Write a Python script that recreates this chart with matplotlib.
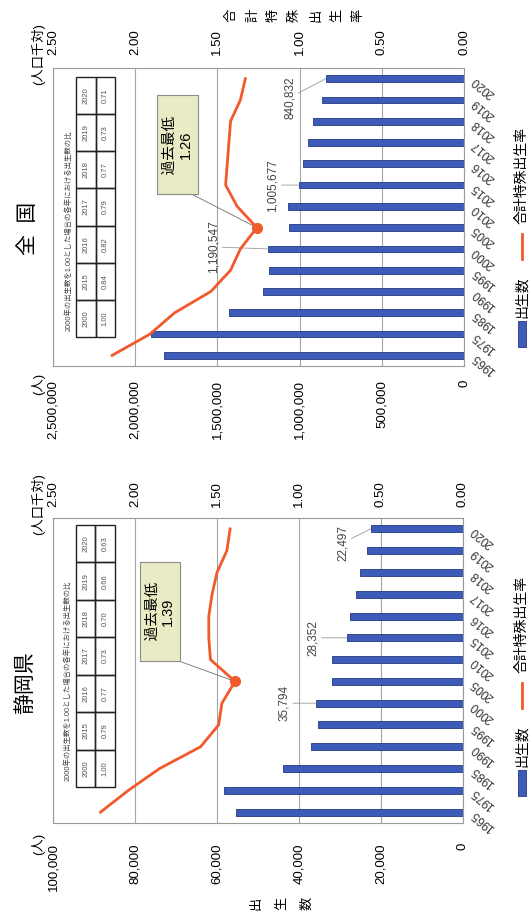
"""
Recreate the rotated 静岡県 / 全国 births and fertility rate chart pair.
"""
import matplotlib.pyplot as plt
import numpy as np
from matplotlib.patches import Rectangle
from matplotlib.lines import Line2D

plt.rcParams["font.family"] = ["Liberation Sans", "Noto Sans CJK JP"]

years = ["1965", "1975", "1985", "1990", "1995", "2000", "2005", "2010",
         "2015", "2016", "2017", "2018", "2019", "2020"]

shizuoka_births = [55400, 58300, 43800, 37100, 35300, 35794, 31850, 31900,
                   28352, 27550, 26200, 25100, 23500, 22497]
shizuoka_rate = [2.21, 2.04, 1.85, 1.60, 1.49, 1.47, 1.39, 1.54,
                 1.55, 1.55, 1.53, 1.50, 1.44, 1.42]

japan_births = [1823697, 1901440, 1431577, 1221585, 1187064, 1190547, 1062530,
                1071304, 1005677, 976978, 946146, 918400, 865239, 840832]
japan_rate = [2.14, 1.91, 1.76, 1.54, 1.42, 1.36, 1.26, 1.38,
              1.45, 1.44, 1.43, 1.42, 1.36, 1.33]

table_years = ["2000", "2015", "2016", "2017", "2018", "2019", "2020"]
shizuoka_ratio = ["1.00", "0.79", "0.77", "0.73", "0.70", "0.66", "0.63"]
japan_ratio = ["1.00", "0.84", "0.82", "0.79", "0.77", "0.73", "0.71"]
table_caption = "2000年の出生数を1.00とした場合の各年における出生数の比"

rate_ticks = [0, 0.5, 1.0, 1.5, 2.0, 2.5]
shizuoka_count_ticks = [0, 20000, 40000, 60000, 80000, 100000]
japan_count_ticks = [0, 500000, 1000000, 1500000, 2000000, 2500000]

labeled_years = ["2000", "2015", "2020"]
lowest_year = "2005"
legend_labels = ["出生数", "合計特殊出生率"]

W, H = 530, 919
BAR_COLOR = "#3d5cb9"
LINE_COLOR = "#f2592b"
GRID_COLOR = "#a5a5a5"


def fx(px):
    return px / W


def fy(py):
    return 1 - py / H


def draw_table(ax, ratios, x0, x1, y0, y1):
    xm = (x0 + x1) / 2
    step = (y1 - y0) / len(table_years)
    for i, (yr, r) in enumerate(zip(table_years, ratios)):
        yb = y0 + i * step
        for xa, txt in ((x0, yr), (xm, r)):
            ax.add_patch(Rectangle((xa, yb), xm - x0, step, transform=ax.transAxes,
                                   fill=False, ec="#222222", lw=1.0, zorder=4))
            ax.text(xa + (xm - x0) / 2, yb + step / 2, txt, transform=ax.transAxes,
                    rotation=90, ha="center", va="center", fontsize=5.5,
                    color="#555555", zorder=5)
    ax.text(x0 - 0.019, y0 + 0.02, table_caption, transform=ax.transAxes,
            rotation=90, ha="center", va="bottom", fontsize=5.3, color="#444444")


def draw_panel(rect, births, rates, count_ticks, ratios, table_y, label_offsets,
               box_offset, bottom_pad, top_pad):
    x0, y0, x1, y1 = rect
    ax = fig.add_axes([fx(x0), fy(y1), (x1 - x0) / W, (y1 - y0) / H])
    pos = np.arange(len(years))

    ax.barh(pos, births, height=0.32, color=BAR_COLOR, edgecolor="#24397e",
            linewidth=0.6, zorder=2)
    ax.set_xlim(count_ticks[-1], count_ticks[0])
    ax.set_ylim(-0.5, len(years) - 0.5)
    ax.set_xticks(count_ticks)
    ax.set_xticklabels([f"{v:,}" for v in count_ticks], rotation=90)
    ax.tick_params(axis="x", length=0, pad=bottom_pad, labelsize=9.5)
    ax.xaxis.grid(True, color=GRID_COLOR, linewidth=0.8)
    ax.set_axisbelow(True)
    ax.yaxis.tick_right()
    ax.set_yticks(pos)
    ax.set_yticklabels(years, rotation=140, ha="right", va="center",
                       rotation_mode="anchor")
    ax.tick_params(axis="y", length=0, pad=7, labelsize=8.5, labelcolor="#333333")
    for s in ax.spines.values():
        s.set_color("#9a9a9a")
        s.set_linewidth(0.8)

    for yr, (dx, dy) in zip(labeled_years, label_offsets):
        i = years.index(yr)
        ax.annotate(f"{births[i]:,}", xy=(births[i], pos[i]), xytext=(dx, dy),
                    textcoords="offset pixels", rotation=90, ha="center",
                    va="center", fontsize=8.5, color="#444444",
                    arrowprops=dict(arrowstyle="-", color="#9a9a9a", lw=0.6,
                                    shrinkA=0, shrinkB=0))

    ax2 = ax.twiny()
    ax2.set_xlim(rate_ticks[-1], rate_ticks[0])
    ax2.set_xticks(rate_ticks)
    ax2.set_xticklabels([f"{v:.2f}" for v in rate_ticks], rotation=90)
    ax2.tick_params(axis="x", length=0, pad=top_pad, labelsize=9.5)
    for s in ax2.spines.values():
        s.set_visible(False)
    ax2.plot(rates, pos, color=LINE_COLOR, lw=2, zorder=3)
    low = years.index(lowest_year)
    ax2.plot(rates[low], pos[low], "o", color=LINE_COLOR, ms=7, zorder=3)
    ax2.annotate(f"　過去最低　\n{rates[low]:.2f}", xy=(rates[low], pos[low]),
                 xytext=box_offset, textcoords="offset pixels", rotation=90,
                 ha="center", va="center", multialignment="center", fontsize=10.5,
                 linespacing=1.1, zorder=6,
                 bbox=dict(boxstyle="square,pad=0.4", fc="#e8ebc3", ec="#8c8c8c", lw=0.8),
                 arrowprops=dict(arrowstyle="-", color="#707070", lw=0.6,
                                 relpos=(0.6, 0.0), shrinkA=0, shrinkB=3))

    draw_table(ax2, ratios, 0.056, 0.151, table_y[0], table_y[1])
    return ax


def draw_legend(base):
    xc = 522
    fig.patches.append(Rectangle((fx(xc - 4), fy(base)), 8 / W, 26 / H,
                                 transform=fig.transFigure, fc=BAR_COLOR,
                                 ec="#24397e", lw=0.6))
    fig.text(fx(xc), fy(base - 50), legend_labels[0], rotation=90,
             ha="center", va="center", fontsize=10)
    fig.lines.append(Line2D([fx(xc), fx(xc)], [fy(base - 88), fy(base - 113)],
                            transform=fig.transFigure, color=LINE_COLOR, lw=2))
    fig.text(fx(xc), fy(base - 172), legend_labels[1], rotation=90,
             ha="center", va="center", fontsize=10)


def stacked_label(text, xc, yc, step):
    n = len(text)
    for i, ch in enumerate(text):
        fig.text(fx(xc + (i - (n - 1) / 2) * step), fy(yc), ch, rotation=90,
                 ha="center", va="center", fontsize=9.5)


fig = plt.figure(figsize=(W / 100, H / 100), dpi=100)

draw_panel((53, 518, 463, 823), shizuoka_births, shizuoka_rate,
           shizuoka_count_ticks, shizuoka_ratio, (0.118, 0.977),
           [(-32, 0), (-34, 0), (-28, -14)], (-75, 70), 14.4, 7.9)
draw_panel((53, 68, 464, 366), japan_births, japan_rate,
           japan_count_ticks, japan_ratio, (0.097, 0.970),
           [(-55, 2), (-26, 0), (-36, -19)], (-79, 83), 10, 9.4)

fig.text(fx(25), fy(683), "静岡県", rotation=90, ha="center", va="center", fontsize=15)
fig.text(fx(28), fy(228), "全  国", rotation=90, ha="center", va="center", fontsize=15)

for top_y in (833, 373):
    fig.text(fx(38), fy(top_y), "(人)", rotation=90, ha="center", va="top", fontsize=9.5)
for top_y in (473, 23):
    fig.text(fx(38), fy(top_y), "(人口千対)", rotation=90, ha="center", va="top", fontsize=9.5)

stacked_label("出生数", 282, 903, 25)
stacked_label("合計特殊出生率", 295, 15, 21)

draw_legend(796)
draw_legend(347)

fig.savefig("out.png", dpi=100)
plt.close(fig)
